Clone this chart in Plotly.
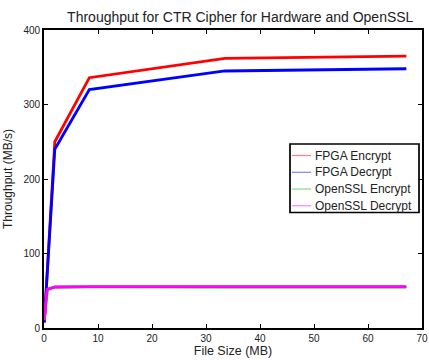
import plotly.graph_objects as go

file_size = [0.05, 0.6, 2, 8.4, 33.5, 67.1]
fpga_enc = [8, 78, 250, 336, 362, 365]
fpga_dec = [7, 72, 240, 320, 345, 348]
ossl_enc = [10.5, 51.5, 54.8, 55.2, 55, 55]
ossl_dec = [11, 52, 55, 55.5, 55.5, 55.5]

names = ["FPGA Encrypt", "FPGA Decrypt", "OpenSSL Encrypt", "OpenSSL Decrypt"]
series = [fpga_enc, fpga_dec, ossl_enc, ossl_dec]
colors = ["#ff0000", "#0000ff", "#00cc00", "#ff00ff"]
legend_colors = ["#ff8080", "#8080ff", "#80e080", "#ff80ff"]

W, H = 429, 360
L, R, T, B = 44, 7, 30, 32
pw, ph = W - L - R, H - T - B


def px_x(p):
    return (p - L) / pw


def px_y(p):
    return (H - B - p) / ph


fig = go.Figure()
for n, s, c in zip(names, series, colors):
    fig.add_trace(go.Scatter(x=file_size, y=s, mode="lines", name=n,
                             line=dict(color=c, width=2.8), showlegend=False))

# legend drawn as a box with short lines and text labels
shapes = [dict(type="rect", xref="paper", yref="paper",
               x0=px_x(290), x1=px_x(419), y0=px_y(212.5), y1=px_y(144),
               line=dict(color="black", width=1.7), fillcolor="white", layer="above")]
annotations = []
row_y = [155.5, 172.3, 189.0, 205.7]
for n, c, ry in zip(names, legend_colors, row_y):
    shapes.append(dict(type="line", xref="paper", yref="paper",
                       x0=px_x(292), x1=px_x(311), y0=px_y(ry), y1=px_y(ry),
                       line=dict(color=c, width=1.2), layer="above"))
    annotations.append(dict(text=n, xref="paper", yref="paper", x=px_x(313), y=px_y(ry),
                            xanchor="left", yanchor="middle", showarrow=False,
                            font=dict(size=12, color="#222")))

axis_common = dict(showgrid=False, zeroline=False, showline=True, linecolor="black",
                   linewidth=1.7, mirror="ticks", ticks="inside", ticklen=4,
                   tickcolor="black", tickfont=dict(size=10, color="#222"),
                   automargin=False)

fig.update_layout(
    width=W, height=H,
    margin=dict(l=L, r=R, t=T, b=B),
    paper_bgcolor="white", plot_bgcolor="white",
    font=dict(family="Liberation Sans, Arial, sans-serif", color="#222"),
    title=dict(text="Throughput for CTR Cipher for Hardware and OpenSSL",
               x=0.56, xanchor="center", y=0.953, yanchor="middle",
               font=dict(size=14, color="#222")),
    xaxis=dict(range=[0, 70], dtick=10,
               title=dict(text="File Size (MB)", font=dict(size=12.5), standoff=3),
               **axis_common),
    yaxis=dict(range=[0, 400], dtick=100,
               title=dict(text="Throughput (MB/s)", font=dict(size=12), standoff=8),
               **axis_common),
    shapes=shapes,
    annotations=annotations,
    showlegend=False,
)

fig.write_html("out.html")
